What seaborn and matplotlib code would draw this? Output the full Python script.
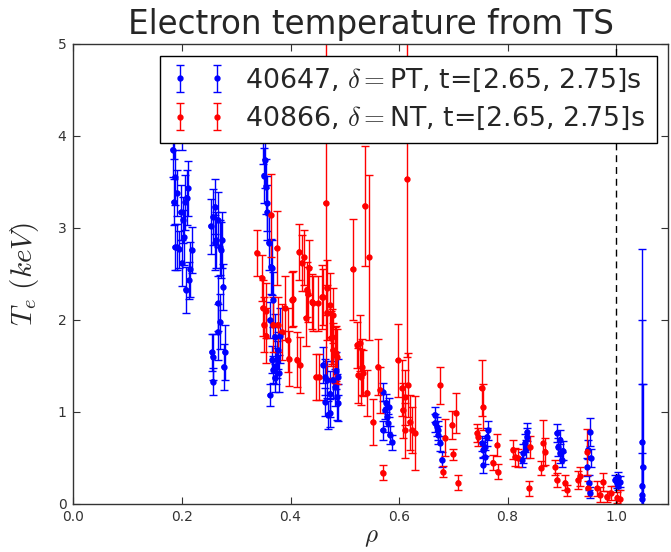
import numpy as np
import pandas as pd
import matplotlib
matplotlib.use("Agg")
import matplotlib.pyplot as plt
import seaborn as sns

# Thomson scattering profile, shot 40647 (positive triangularity)
pt_rho = [0.183, 0.185, 0.187, 0.191, 0.185, 0.187, 0.191, 0.194, 0.198, 0.200,
          0.202, 0.204, 0.206, 0.207, 0.209, 0.211, 0.213, 0.215, 0.218, 0.200,
          0.253, 0.257, 0.261, 0.266, 0.263, 0.270, 0.274, 0.276, 0.266, 0.270,
          0.266, 0.255, 0.257, 0.279, 0.277, 0.257, 0.261, 0.272,
          0.351, 0.353, 0.355, 0.357, 0.357, 0.349, 0.353, 0.360, 0.364, 0.366,
          0.368, 0.362, 0.371, 0.366, 0.368, 0.371, 0.375, 0.377, 0.379, 0.362,
          0.381, 0.373,
          0.460, 0.464, 0.467, 0.469, 0.473, 0.464, 0.473, 0.482, 0.486, 0.488,
          0.478, 0.488, 0.484,
          0.570, 0.574, 0.578, 0.580, 0.570, 0.582, 0.583, 0.587, 0.576,
          0.666, 0.670, 0.672, 0.676, 0.679, 0.666, 0.672,
          0.753, 0.755, 0.758, 0.755, 0.762, 0.758, 0.764,
          0.836, 0.832, 0.829, 0.827, 0.836, 0.834,
          0.891, 0.893, 0.897, 0.900, 0.897, 0.902,
          0.952, 0.948, 0.947, 0.950, 0.952, 0.953,
          0.998, 1.002, 1.004, 1.007, 1.003,
          1.048, 1.048, 1.048, 1.048, 1.049]
pt_te = [3.85, 4.05, 3.55, 3.38, 3.28, 2.79, 2.79, 2.77, 3.17, 2.62,
         3.09, 2.90, 3.28, 2.33, 3.33, 3.43, 2.43, 2.55, 2.76, 4.20,
         3.02, 3.12, 3.23, 3.09, 2.87, 2.79, 2.87, 2.36, 2.18, 1.98,
         1.87, 1.65, 1.60, 1.65, 1.49, 1.33, 2.84, 2.76,
         3.57, 3.74, 3.45, 3.27, 3.17, 4.10, 4.40, 2.84, 2.58, 2.57,
         2.22, 2.00, 1.82, 1.57, 1.46, 1.37, 1.57, 1.67, 1.42, 1.18,
         1.83, 1.50,
         1.51, 1.38, 1.35, 0.97, 1.20, 1.11, 0.99, 1.27, 1.16, 1.10,
         1.35, 1.38, 1.45,
         1.22, 1.02, 0.95, 0.88, 0.80, 1.05, 0.75, 0.67, 1.10,
         0.97, 0.84, 0.75, 0.66, 0.48, 0.88, 0.80,
         0.66, 0.59, 0.51, 0.42, 0.73, 0.62, 0.80,
         0.78, 0.66, 0.55, 0.48, 0.73, 0.60,
         0.77, 0.62, 0.55, 0.48, 0.70, 0.58,
         0.78, 0.59, 0.40, 0.23, 0.12, 0.50,
         0.26, 0.23, 0.29, 0.24, 0.20,
         0.67, 0.10, 0.20, 0.05, 0.40]
pt_err = [0.30, 0.30, 0.30, 0.25, 0.25, 0.25, 0.25, 0.20, 0.30, 0.25,
          0.25, 0.30, 0.30, 0.25, 0.30, 0.30, 0.20, 0.30, 0.25, 0.35,
          0.30, 0.30, 0.30, 0.30, 0.30, 0.30, 0.30, 0.25, 0.30, 0.30,
          0.30, 0.20, 0.25, 0.30, 0.25, 0.15, 0.30, 0.30,
          0.30, 0.30, 0.30, 0.30, 0.30, 0.40, 0.40, 0.30, 0.30, 0.30,
          0.30, 0.20, 0.25, 0.15, 0.15, 0.15, 0.20, 0.20, 0.20, 0.12,
          0.30, 0.20,
          0.20, 0.20, 0.20, 0.15, 0.25, 0.15, 0.15, 0.20, 0.25, 0.20,
          0.20, 0.20, 0.20,
          0.10, 0.10, 0.10, 0.10, 0.10, 0.10, 0.10, 0.08, 0.10,
          0.08, 0.10, 0.10, 0.08, 0.08, 0.10, 0.10,
          0.08, 0.08, 0.08, 0.08, 0.10, 0.10, 0.10,
          0.10, 0.10, 0.10, 0.08, 0.10, 0.10,
          0.10, 0.10, 0.10, 0.08, 0.10, 0.10,
          0.15, 0.10, 0.10, 0.08, 0.06, 0.10,
          0.06, 0.06, 0.06, 0.06, 0.05,
          2.10, 1.20, 1.80, 0.50, 0.90]

# Thomson scattering profile, shot 40866 (negative triangularity)
nt_rho = [0.338, 0.347, 0.349, 0.355, 0.351, 0.355, 0.364, 0.368, 0.375, 0.377,
          0.384, 0.390, 0.395, 0.397, 0.403, 0.405, 0.412, 0.418, 0.416, 0.421,
          0.425, 0.430, 0.432, 0.429, 0.434, 0.440, 0.441, 0.447, 0.453, 0.451,
          0.458, 0.460, 0.465, 0.467, 0.467, 0.473, 0.475, 0.477, 0.478, 0.478,
          0.482, 0.484, 0.486,
          0.515, 0.523, 0.528, 0.525, 0.532, 0.530, 0.534, 0.537, 0.545, 0.541,
          0.552, 0.561, 0.565, 0.570,
          0.598, 0.606, 0.607, 0.615, 0.611, 0.617, 0.611, 0.620, 0.624, 0.630,
          0.676, 0.685, 0.681, 0.698, 0.705, 0.700, 0.709,
          0.744, 0.746, 0.752, 0.755, 0.773, 0.781, 0.782,
          0.810, 0.814, 0.819, 0.840, 0.841, 0.862, 0.866, 0.869,
          0.888, 0.891, 0.906, 0.910, 0.930, 0.934, 0.947, 0.948,
          0.965, 0.970, 0.976, 0.983, 1.002, 1.007, 0.990]
nt_te = [2.73, 2.46, 2.13, 1.83, 1.95, 2.10, 3.14, 1.95, 2.78, 1.95,
         1.87, 2.13, 1.78, 1.58, 2.22, 2.23, 1.57, 1.51, 2.74, 2.62,
         2.68, 2.33, 2.28, 2.02, 2.57, 2.20, 2.18, 1.38, 1.38, 2.18,
         2.25, 2.25, 3.27, 2.35, 2.08, 2.16, 1.80, 1.82, 2.05, 1.67,
         1.62, 1.64, 1.60,
         2.55, 1.73, 1.75, 1.40, 1.49, 1.38, 1.42, 3.24, 2.68, 1.21,
         0.89, 1.49, 1.24, 0.34,
         1.56, 1.26, 1.02, 3.53, 1.16, 1.29, 0.80, 0.89, 0.80, 0.77,
         1.29, 0.72, 0.35, 0.86, 0.99, 0.54, 0.23,
         0.77, 0.73, 1.26, 1.05, 0.45, 0.64, 0.35,
         0.59, 0.51, 0.50, 0.17, 0.62, 0.39, 0.66, 0.57,
         0.40, 0.26, 0.23, 0.15, 0.26, 0.30, 0.57, 0.17,
         0.17, 0.10, 0.24, 0.08, 0.07, 0.05, 0.12]
nt_err = [0.25, 0.25, 0.30, 0.30, 0.30, 0.30, 0.45, 0.30, 0.40, 0.30,
          0.30, 0.35, 0.35, 0.30, 0.30, 0.30, 0.30, 0.30, 0.30, 0.30,
          0.30, 0.30, 0.30, 0.30, 0.30, 0.30, 0.30, 0.25, 0.25, 0.30,
          0.35, 0.30, 1.90, 0.30, 0.30, 0.35, 0.30, 0.30, 0.30, 0.30,
          0.30, 0.30, 0.30,
          0.55, 0.25, 0.30, 0.30, 0.30, 0.30, 0.25, 0.65, 0.90, 0.25,
          0.25, 0.30, 0.25, 0.08,
          0.40, 0.30, 0.30, 1.93, 0.30, 0.35, 0.30, 0.30, 0.25, 0.40,
          0.20, 0.20, 0.06, 0.15, 0.22, 0.06, 0.08,
          0.10, 0.10, 0.30, 0.25, 0.08, 0.12, 0.08,
          0.10, 0.10, 0.10, 0.08, 0.12, 0.08, 0.25, 0.15,
          0.08, 0.08, 0.08, 0.06, 0.10, 0.10, 0.25, 0.08,
          0.08, 0.08, 0.10, 0.06, 0.06, 0.10, 0.08]

shot_labels = [r"40647, $\delta=$PT, t=[2.65, 2.75]s",
               r"40866, $\delta=$NT, t=[2.65, 2.75]s"]
shot_colors = ["#0000ff", "#ff0000"]

df = pd.concat([
    pd.DataFrame({"rho": pt_rho, "Te": pt_te, "err": pt_err, "shot": shot_labels[0]}),
    pd.DataFrame({"rho": nt_rho, "Te": nt_te, "err": nt_err, "shot": shot_labels[1]}),
], ignore_index=True)

sns.set_style("ticks")
plt.rcParams.update({
    "font.family": ["DejaVu Sans"],
    "mathtext.fontset": "cm",
    "xtick.direction": "in",
    "ytick.direction": "in",
    "xtick.top": True,
    "ytick.right": True,
    "xtick.major.size": 5,
    "ytick.major.size": 5,
    "axes.edgecolor": "#333333",
    "axes.linewidth": 1.0,
})

fig = plt.figure(figsize=(6.71, 5.52), dpi=100)
ax = fig.add_axes([0.1095, 0.087, 0.8864, 0.8333])

palette = dict(zip(shot_labels, shot_colors))
for shot, grp in df.groupby("shot", sort=False):
    ax.errorbar(grp["rho"], grp["Te"], yerr=grp["err"], fmt="o",
                color=palette[shot], ecolor=palette[shot], markersize=3.5,
                elinewidth=1.0, capsize=3, capthick=1.0, label=shot)
sns.scatterplot(data=df, x="rho", y="Te", hue="shot", palette=palette,
                s=14, linewidth=0, ax=ax, legend=False, zorder=3)

ax.axvline(1.0, color="black", linestyle=(0, (5, 3.5)), linewidth=1.0)

ax.set_xlim(0, 1.096)
ax.set_ylim(0, 5)
ax.set_xticks([0.0, 0.2, 0.4, 0.6, 0.8, 1.0])
ax.set_xticklabels(["0.0", "0.2", "0.4", "0.6", "0.8", "1.0"])
ax.set_yticks([0, 1, 2, 3, 4, 5])
ax.tick_params(labelsize=10, colors="#333333")
ax.tick_params(axis="y", pad=5)
ax.tick_params(axis="x", pad=4)
ax.set_xlabel(r"$\rho$", fontsize=18, labelpad=1)
ax.set_ylabel(r"$T_e\ (keV)$", fontsize=21, labelpad=12)
ax.set_title("Electron temperature from TS", fontsize=23.5, pad=7)

leg = ax.legend(loc="upper right", numpoints=2, fontsize=19.3, fancybox=False,
                framealpha=1, edgecolor="black", borderaxespad=0.43,
                handlelength=2.0, borderpad=0.42, labelspacing=0.42,
                handletextpad=0.75)
leg.get_frame().set_linewidth(1.0)

fig.savefig("out.png", dpi=100)
